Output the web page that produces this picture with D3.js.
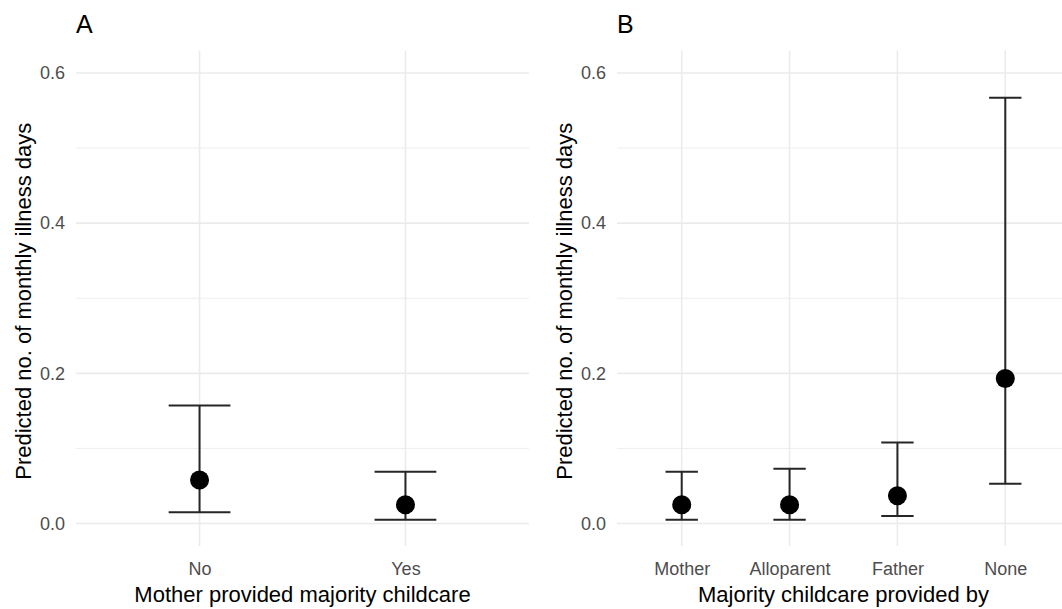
<!DOCTYPE html>
<html>
<head>
<meta charset="utf-8">
<script src="https://cdn.jsdelivr.net/npm/d3@7"></script>
<style>
  body { margin: 0; background: #fff; }
  svg { display: block; font-family: "Liberation Sans", Arial, sans-serif; }
  .grid-major { stroke: #ebebeb; stroke-width: 1.6; }
  .grid-minor { stroke: #ebebeb; stroke-width: 0.9; }
  .axis text { fill: #4d4d4d; font-size: 18px; }
  .bar-line { stroke: #262626; stroke-width: 2; }
</style>
</head>
<body>
<svg id="chart"></svg>
<script>
// Panel A: mother provided majority childcare
const catsA = ['No', 'Yes'];
const estA = [0.058, 0.025];
const lowA = [0.015, 0.005];
const highA = [0.157, 0.069];

// Panel B: who provided majority childcare
const catsB = ['Mother', 'Alloparent', 'Father', 'None'];
const estB = [0.025, 0.025, 0.037, 0.193];
const lowB = [0.005, 0.005, 0.010, 0.053];
const highB = [0.069, 0.073, 0.108, 0.567];

const yTicks = [0, 0.2, 0.4, 0.6];
const yMinor = [0.1, 0.3, 0.5];
const yLabel = 'Predicted no. of monthly illness days';

class ErrorPlot {

    constructor(_config, _cats, _est, _low, _high) {
        this.config = {
            svg: _config.svg,
            left: _config.left,
            top: _config.top || 50.5,
            width: _config.width || 453,
            height: _config.height || 495.5,
            tag: _config.tag,
            xL: _config.xL
        };
        this.data = _cats.map((c, i) => ({key: c, est: _est[i], low: _low[i], high: _high[i]}));
        this.cats = _cats;
        this.initVis();
    }

    initVis() {
        let vis = this;
        const c = vis.config;

        vis.xScale = d3.scalePoint()
            .domain(vis.cats)
            .range([0, c.width])
            .padding(0.6);

        // ylim(0, 0.6) plus the usual 5% expansion
        vis.yScale = d3.scaleLinear()
            .domain([-0.03, 0.63])
            .range([c.height, 0]);

        vis.chart = c.svg.append('g')
            .attr('transform', `translate(${c.left},${c.top})`);

        // gridlines
        vis.chart.selectAll('.grid-minor')
            .data(yMinor)
            .join('line')
            .attr('class', 'grid-minor')
            .attr('x1', 0).attr('x2', c.width)
            .attr('y1', d => vis.yScale(d)).attr('y2', d => vis.yScale(d));

        vis.chart.selectAll('.grid-y')
            .data(yTicks)
            .join('line')
            .attr('class', 'grid-major grid-y')
            .attr('x1', 0).attr('x2', c.width)
            .attr('y1', d => vis.yScale(d)).attr('y2', d => vis.yScale(d));

        vis.chart.selectAll('.grid-x')
            .data(vis.cats)
            .join('line')
            .attr('class', 'grid-major grid-x')
            .attr('x1', d => vis.xScale(d)).attr('x2', d => vis.xScale(d))
            .attr('y1', 0).attr('y2', c.height);

        // axes, no lines
        vis.chart.append('g')
            .attr('class', 'axis')
            .call(d3.axisLeft(vis.yScale).tickValues(yTicks).tickFormat(d3.format('.1f')).tickSize(0).tickPadding(11))
            .call(g => g.select('.domain').remove());

        vis.chart.append('g')
            .attr('class', 'axis')
            .attr('transform', `translate(0,${c.height})`)
            .call(d3.axisBottom(vis.xScale).tickSize(0).tickPadding(16))
            .call(g => g.select('.domain').remove());

        // titles
        vis.chart.append('text')
            .attr('x', c.width / 2)
            .attr('y', c.height + 55.5)
            .attr('text-anchor', 'middle')
            .style('font-size', '22px')
            .attr('fill', '#000')
            .text(c.xL);

        vis.chart.append('text')
            .attr('transform', `translate(${-45},${c.height / 2 + 3}) rotate(-90)`)
            .attr('text-anchor', 'middle')
            .style('font-size', '22px')
            .attr('fill', '#000')
            .text(yLabel);

        vis.chart.append('text')
            .attr('x', 0)
            .attr('y', -17.5)
            .style('font-size', '25px')
            .attr('fill', '#000')
            .text(c.tag);

        vis.renderVis();
    }

    renderVis() {
        let vis = this;
        const capW = vis.xScale.step() * 0.3;

        const bars = vis.chart.selectAll('.errbar')
            .data(vis.data, d => d.key)
            .join('g')
            .attr('class', 'errbar')
            .attr('transform', d => `translate(${vis.xScale(d.key)},0)`);

        bars.append('line')
            .attr('class', 'bar-line')
            .attr('x1', 0).attr('x2', 0)
            .attr('y1', d => vis.yScale(d.low))
            .attr('y2', d => vis.yScale(d.high));

        bars.append('line')
            .attr('class', 'bar-line')
            .attr('x1', -capW / 2).attr('x2', capW / 2)
            .attr('y1', d => vis.yScale(d.high))
            .attr('y2', d => vis.yScale(d.high));

        bars.append('line')
            .attr('class', 'bar-line')
            .attr('x1', -capW / 2).attr('x2', capW / 2)
            .attr('y1', d => vis.yScale(d.low))
            .attr('y2', d => vis.yScale(d.low));

        bars.append('circle')
            .attr('cx', 0)
            .attr('cy', d => vis.yScale(d.est))
            .attr('r', 9.5)
            .attr('fill', '#000');
    }
}

const svg = d3.select('#chart')
    .attr('width', 1062)
    .attr('height', 609);

new ErrorPlot({svg: svg, left: 76, tag: 'A', xL: 'Mother provided majority childcare'}, catsA, estA, lowA, highA);
new ErrorPlot({svg: svg, left: 617, tag: 'B', xL: 'Majority childcare provided by'}, catsB, estB, lowB, highB);
</script>
</body>
</html>
